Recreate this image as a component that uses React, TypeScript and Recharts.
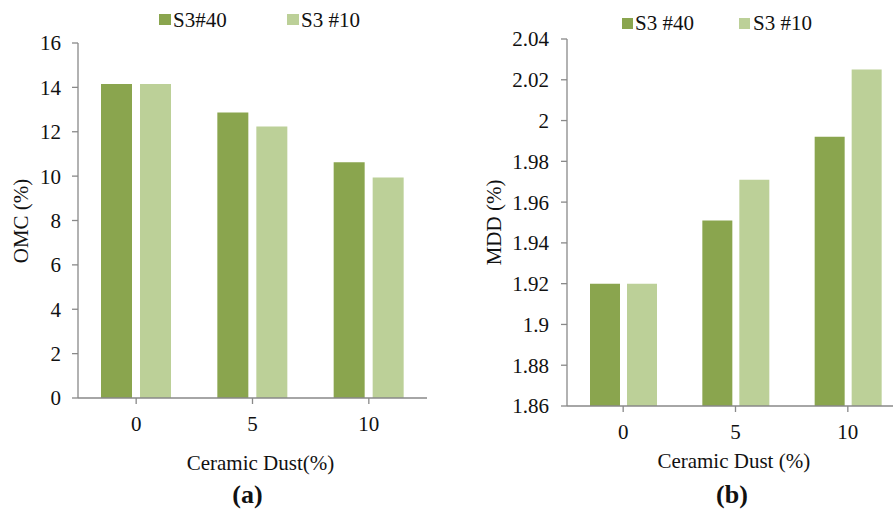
import React from "react";
import { BarChart, Bar, XAxis, YAxis } from "recharts";

const categories = ["0", "5", "10"];
const omcS3_40 = [14.15, 12.87, 10.62];
const omcS3_10 = [14.15, 12.24, 9.94];
const mddS3_40 = [1.92, 1.951, 1.992];
const mddS3_10 = [1.92, 1.971, 2.025];
const omcTicks = [0, 2, 4, 6, 8, 10, 12, 14, 16];
const mddTicks = [1.86, 1.88, 1.9, 1.92, 1.94, 1.96, 1.98, 2, 2.02, 2.04];

const DARK = "#8aa54e";
const LIGHT = "#bcd098";
const AXIS = "#898989";
const FONT = "Liberation Serif";

const omcData = categories.map((c, i) => ({ cat: c, a: omcS3_40[i], b: omcS3_10[i] }));
const mddData = categories.map((c, i) => ({ cat: c, a: mddS3_40[i], b: mddS3_10[i] }));

const tickStyle = { fill: "#111", fontSize: 21, fontFamily: FONT };
const fmt = (v: number) => String(Number(v.toFixed(2)));

export default function App() {
  return (
    <div style={{ position: "absolute", left: 0, top: 0, width: 893, height: 512, overflow: "hidden", background: "#fff", fontFamily: FONT }}>
      <div style={{ position: "absolute", left: 0, top: 0 }}>
        <BarChart width={450} height={512} data={omcData} barSize={31} barGap={8}
          margin={{ top: 43, right: 23, bottom: 84, left: 18 }}>
          <XAxis dataKey="cat" height={30} tick={tickStyle} tickMargin={12}
            axisLine={{ stroke: AXIS, strokeWidth: 1.3 }} tickLine={{ stroke: AXIS, strokeWidth: 1.3 }} />
          <YAxis width={60} domain={[0, 16]} ticks={omcTicks} interval={0} tick={tickStyle} tickMargin={11}
            axisLine={{ stroke: AXIS, strokeWidth: 1.3 }} tickLine={{ stroke: AXIS, strokeWidth: 1.3 }} />
          <Bar dataKey="a" fill={DARK} isAnimationActive={false} />
          <Bar dataKey="b" fill={LIGHT} isAnimationActive={false} />
        </BarChart>
      </div>
      <div style={{ position: "absolute", left: 443, top: 0 }}>
        <BarChart width={461} height={512} data={mddData} barSize={30} barGap={7}
          margin={{ top: 39, right: 0, bottom: 76, left: 64 }}>
          <XAxis dataKey="cat" height={30} tick={tickStyle} tickMargin={12}
            axisLine={{ stroke: AXIS, strokeWidth: 1.3 }} tickLine={{ stroke: AXIS, strokeWidth: 1.3 }} />
          <YAxis width={60} domain={[1.86, 2.04]} ticks={mddTicks} interval={0} tick={tickStyle} tickMargin={12}
            tickFormatter={fmt}
            axisLine={{ stroke: AXIS, strokeWidth: 1.3 }} tickLine={{ stroke: AXIS, strokeWidth: 1.3 }} />
          <Bar dataKey="a" fill={DARK} isAnimationActive={false} />
          <Bar dataKey="b" fill={LIGHT} isAnimationActive={false} />
        </BarChart>
      </div>
      <svg width={893} height={512} style={{ position: "absolute", left: 0, top: 0, pointerEvents: "none", fontFamily: FONT }}
        fontSize={21} fill="#111">
        {/* legend (a) */}
        <rect x={159} y={14} width={12} height={11} fill={DARK} />
        <text x={173} y={26.5}>S3#40</text>
        <rect x={287} y={14} width={12} height={11} fill={LIGHT} />
        <text x={301} y={26.5}>S3 #10</text>
        {/* legend (b) */}
        <rect x={622} y={18} width={11} height={11} fill={DARK} />
        <text x={635} y={30}>S3 #40</text>
        <rect x={739} y={18} width={11} height={11} fill={LIGHT} />
        <text x={753} y={30}>S3 #10</text>
        {/* axis titles */}
        <text transform="translate(28,221) rotate(-90)" textAnchor="middle">OMC (%)</text>
        <text transform="translate(501,222.5) rotate(-90)" textAnchor="middle">MDD (%)</text>
        <text x={260.5} y={470} textAnchor="middle">Ceramic Dust(%)</text>
        <text x={733.8} y={468} textAnchor="middle">Ceramic Dust (%)</text>
        <text x={247.5} y={503} textAnchor="middle" fontWeight="bold" fontSize={26}>(a)</text>
        <text x={732} y={503} textAnchor="middle" fontWeight="bold" fontSize={26}>(b)</text>
      </svg>
    </div>
  );
}
